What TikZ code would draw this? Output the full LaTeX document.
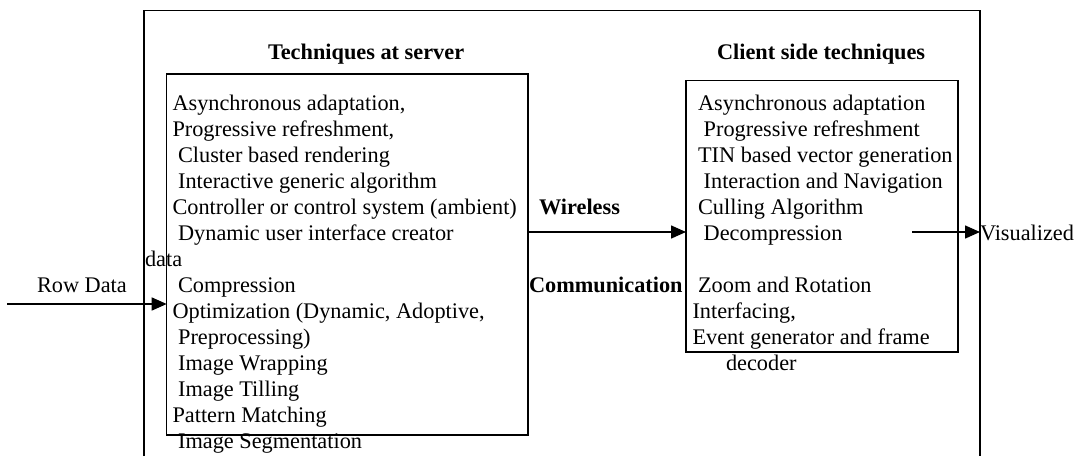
\documentclass[tikz,border=0pt]{standalone}
\usepackage{fontspec}
\setmainfont{Liberation Serif}
\usetikzlibrary{arrows.meta}
\tikzset{
  frame/.style={draw, line width=1.5pt},
  boxnode/.style={draw, line width=1.5pt, rectangle, inner sep=0pt, outer sep=0pt, anchor=north west},
  txt/.style={inner sep=0pt, outer sep=0pt, anchor=base west, font=\fontsize{22.3}{26}\selectfont},
  ttl/.style={txt, font=\fontsize{22.3}{26}\selectfont\bfseries},
  arr/.style={line width=1.5pt, -{Triangle[length=15pt,width=13pt]}},
}
\begin{document}
\begin{tikzpicture}[x=1pt,y=-1pt]
\useasboundingbox (0,0) rectangle (1077,456);
% outer frame (open at the bottom)
\draw[frame] (144,456) |- (980,10.7) -- (980,456);
% boxes
\node[boxnode, minimum width=361.3pt, minimum height=361pt] (server) at (166.7,74) {};
\node[boxnode, minimum width=272pt, minimum height=271.3pt] (client) at (686,80.7) {};
% titles
\node[ttl] (ttlserver) at (268,59) {Techniques at server};
\node[ttl] (ttlclient) at (717,59) {Client side techniques};
% server text
\node[txt] (s0) at (172.5,110) {Asynchronous adaptation,};
\node[txt] (s1) at (172.5,136) {Progressive refreshment,};
\node[txt] (s2) at (178.1,162) {Cluster based rendering};
\node[txt] (s3) at (178.1,188) {Interactive generic algorithm};
\node[txt] (s4) at (172.5,214) {Controller or control system (ambient)};
\node[txt] (s5) at (178.1,240) {Dynamic user interface creator};
\node[txt] (data) at (145,266) {data};
\node[txt] (s7) at (178.1,292) {Compression};
\node[txt] (s8) at (172.5,318) {Optimization (Dynamic, Adoptive,};
\node[txt] (s9) at (178.1,344) {Preprocessing)};
\node[txt] (s10) at (178.1,370) {Image Wrapping};
\node[txt] (s11) at (178.1,396) {Image Tilling};
\node[txt] (s12) at (172.5,422) {Pattern Matching};
\node[txt] (s13) at (178.1,448) {Image Segmentation};
% client text
\node[txt] (c0) at (698.1,110) {Asynchronous adaptation};
\node[txt] (c1) at (703.7,136) {Progressive refreshment};
\node[txt] (c2) at (698.1,162) {TIN based vector generation};
\node[txt] (c3) at (703.7,188) {Interaction and Navigation};
\node[txt] (c4) at (698.1,214) {Culling Algorithm};
\node[txt] (c5) at (703.7,240) {Decompression};
\node[txt] (c7) at (698.1,292) {Zoom and Rotation};
\node[txt] (c8) at (692.5,318) {Interfacing,};
\node[txt] (c9) at (692.5,344) {Event generator and frame};
\node[txt] (c10) at (726,370) {decoder};
% labels
\node[ttl] (wireless) at (539,214) {Wireless};
\node[ttl] (comm) at (529,292) {Communication};
\node[txt] (rowdata) at (37,292) {Row Data};
\node[txt] (vis) at (980,240) {Visualized};
% connectors
\coordinate (rowin) at (7,304);
\draw[arr] (rowin) -- (rowin -| server.west);
\coordinate (wl) at (0,232);
\draw[arr] (wl -| server.east) -- (wl -| client.west);
\coordinate (vstart) at (912,232);
\draw[arr] (vstart) -- (vstart -| vis.west);
\end{tikzpicture}
\end{document}
